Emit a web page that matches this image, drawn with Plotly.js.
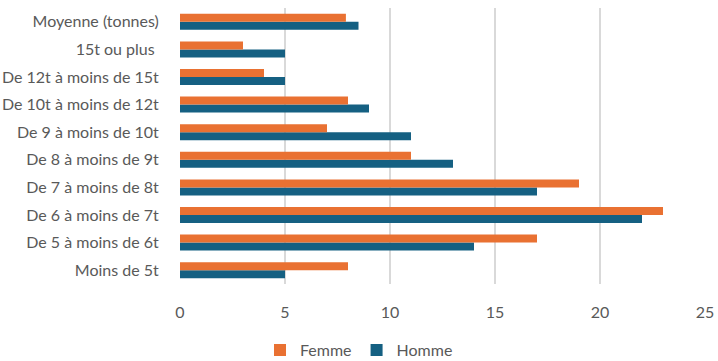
<!DOCTYPE html>
<html><head><meta charset="utf-8">
<script src="https://cdn.plot.ly/plotly-3.0.1.min.js"></script>
<style>body{margin:0;background:#fff}#chart{width:718px;height:361px}</style>
</head><body><div id="chart"></div>
<script>
const categories = ["Moins de 5t","De 5 à moins de 6t","De 6 à moins de 7t","De 7 à moins de 8t","De 8 à moins de 9t","De 9 à moins de 10t","De 10t à moins de 12t","De 12t à moins de 15t","15t ou plus ","Moyenne (tonnes)"];
const femme = [8, 17, 23, 19, 11, 7, 8, 4, 3, 7.9];
const homme = [5, 14, 22, 17, 13, 11, 9, 5, 5, 8.5];
const xTicks = [0, 5, 10, 15, 20, 25];

const font = {family: "Lato, 'Open Sans', sans-serif", size: 16, color: "#595959"};
const traces = [
  {type: "bar", orientation: "h", name: "Homme", y: categories, x: homme, marker: {color: "#156082"}},
  {type: "bar", orientation: "h", name: "Femme", y: categories, x: femme, marker: {color: "#E97132"}}
];
const layout = {
  width: 718, height: 361,
  margin: {l: 180, r: 13, t: 8, b: 77},
  barmode: "group", bargap: 0.42, bargroupgap: 0,
  paper_bgcolor: "#fff", plot_bgcolor: "#fff",
  font: font,
  xaxis: {range: [0, 25], tickvals: xTicks, showgrid: true, gridcolor: "#d9d9d9", gridwidth: 1.5,
          zeroline: false, showline: false, ticks: "outside", ticklen: 14, tickcolor: "rgba(0,0,0,0)",
          tickfont: font, fixedrange: true, automargin: false},
  yaxis: {type: "category", showgrid: false, zeroline: false, showline: false, ticks: "outside",
          ticklen: 17, tickcolor: "rgba(0,0,0,0)", tickfont: font, automargin: false},
  showlegend: true,
  legend: {orientation: "h", x: 0.5, xref: "container", xanchor: "center", y: 0.03, yref: "container",
           yanchor: "middle", traceorder: "reversed", font: font}
};
Plotly.newPlot("chart", traces, layout, {displayModeBar: false, staticPlot: true});
</script></body></html>
